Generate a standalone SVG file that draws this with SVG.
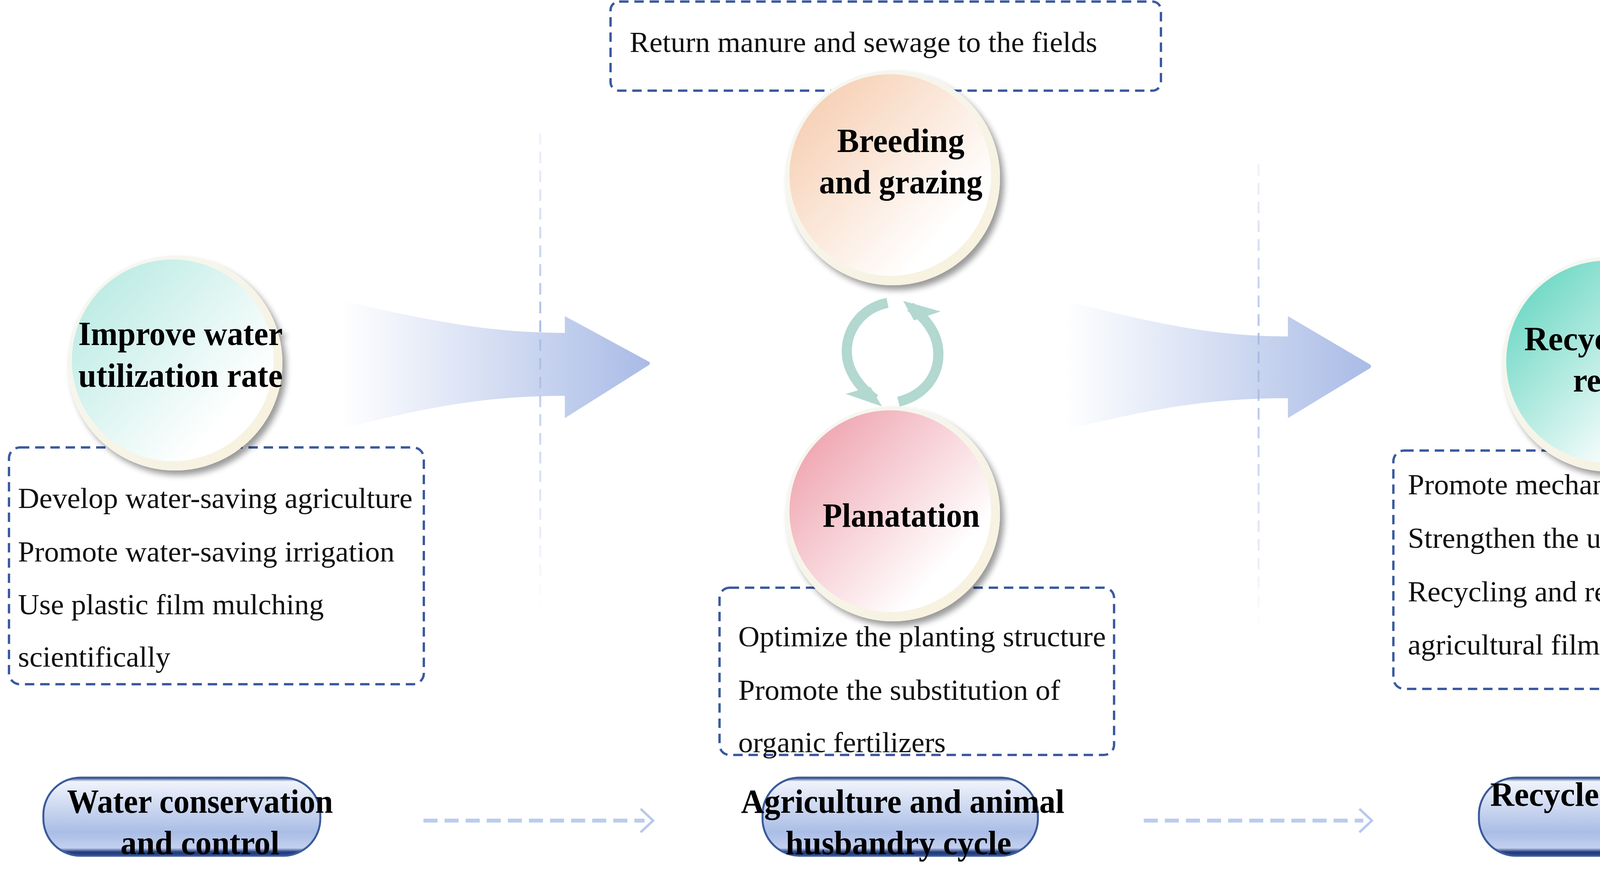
<svg xmlns="http://www.w3.org/2000/svg" width="4724" height="2229" viewBox="0 0 4724 2229">
<style>
.box{fill:none;stroke:#3b5aa0;stroke-width:6;stroke-dasharray:24 15}
.t{font-family:"Liberation Serif",serif;font-size:74px;fill:#111}
.b{font-family:"Liberation Serif",serif;font-size:86px;font-weight:bold;fill:#000;text-anchor:middle}
.pill{stroke:#3a5a9a;stroke-width:5}
.vl{stroke-width:5;stroke-dasharray:30 18;fill:none}
.cyc{fill:none;stroke:#b2d8d0;stroke-width:26}
</style>
<defs>
<filter id="sh" x="-20%" y="-20%" width="150%" height="150%"><feGaussianBlur in="SourceAlpha" stdDeviation="8"/><feOffset dx="10" dy="12"/><feComponentTransfer><feFuncA type="linear" slope="0.4"/></feComponentTransfer><feMerge><feMergeNode/><feMergeNode in="SourceGraphic"/></feMerge></filter>
<linearGradient id="rim" x1="0" y1="0" x2="1" y2="1"><stop offset="0" stop-color="#f5f8f5"/><stop offset="1" stop-color="#f8f1dc"/></linearGradient>
<linearGradient id="gTeal" x1="0.1" y1="0.2" x2="0.75" y2="0.8"><stop offset="0" stop-color="#bfece5"/><stop offset="1" stop-color="#ffffff"/></linearGradient>
<linearGradient id="gPeach" x1="0.1" y1="0.2" x2="0.75" y2="0.8"><stop offset="0" stop-color="#f7d2b8"/><stop offset="1" stop-color="#ffffff"/></linearGradient>
<linearGradient id="gPink" x1="0.1" y1="0.2" x2="0.75" y2="0.8"><stop offset="0" stop-color="#f0aab5"/><stop offset="1" stop-color="#ffffff"/></linearGradient>
<linearGradient id="gGreen" x1="0.1" y1="0.2" x2="0.75" y2="0.8"><stop offset="0" stop-color="#76dac8"/><stop offset="1" stop-color="#ffffff"/></linearGradient>
<linearGradient id="arrG" x1="0" y1="0" x2="1" y2="0"><stop offset="0" stop-color="#a9bbe6" stop-opacity="0"/><stop offset="1" stop-color="#a9bbe6"/></linearGradient>
<linearGradient id="pillG" x1="0" y1="0" x2="0" y2="1"><stop offset="0" stop-color="#243f80"/><stop offset="0.05" stop-color="#f0f3fb"/><stop offset="0.7" stop-color="#aabde6"/><stop offset="0.9" stop-color="#c3d0ef"/><stop offset="0.95" stop-color="#243f80"/><stop offset="1" stop-color="#243f80"/></linearGradient>
<linearGradient id="vfade1" gradientUnits="userSpaceOnUse" x1="0" y1="340" x2="0" y2="1560"><stop offset="0" stop-color="#c9d4ee" stop-opacity="0.3"/><stop offset="0.4" stop-color="#aabde8"/><stop offset="1" stop-color="#aabde8" stop-opacity="0"/></linearGradient>
<linearGradient id="vfade2" gradientUnits="userSpaceOnUse" x1="0" y1="420" x2="0" y2="1620"><stop offset="0" stop-color="#c9d4ee" stop-opacity="0.3"/><stop offset="0.4" stop-color="#aabde8"/><stop offset="1" stop-color="#aabde8" stop-opacity="0"/></linearGradient>
</defs>

<g id="dividers">
<line class="vl" stroke="url(#vfade1)" x1="1383" y1="340" x2="1383" y2="1560"/>
<line class="vl" stroke="url(#vfade2)" x1="3222" y1="420" x2="3222" y2="1620"/>
</g>

<g id="connectors">
<path d="M874,770 C1100,820 1250,852 1446,852 L1446,809 L1660,925 Q1668,929 1660,935 L1446,1070 L1446,1013 C1250,1013 1100,1040 874,1097 Z" fill="url(#arrG)"/>
<path d="M2727,770 C2950,825 3100,861 3297,861 L3297,809 L3506,932 Q3514,937 3506,943 L3297,1070 L3297,1019 C3100,1019 2950,1045 2727,1100 Z" fill="url(#arrG)"/>
<line x1="1084" y1="2100" x2="1650" y2="2100" stroke="#bccbee" stroke-width="10" stroke-dasharray="36 18"/>
<polyline points="1640,2070 1672,2100 1640,2130" fill="none" stroke="#b8c8ec" stroke-width="6"/>
<line x1="2928" y1="2100" x2="3490" y2="2100" stroke="#bccbee" stroke-width="10" stroke-dasharray="36 18"/>
<polyline points="3480,2070 3512,2100 3480,2130" fill="none" stroke="#b8c8ec" stroke-width="6"/>
<path class="cyc" d="M2272,775 C2200,790 2165,850 2168,905 C2170,950 2200,990 2240,1022"/>
<polygon points="2165,1008 2258,1040 2228,990" fill="#b2d8d0"/>
<path class="cyc" d="M2300,1028 C2372,1010 2405,955 2402,900 C2400,855 2372,815 2330,785"/>
<polygon points="2408,797 2312,770 2340,820" fill="#b2d8d0"/>
</g>

<g id="box-water">
<rect class="box" x="23" y="1145" width="1062" height="606" rx="28"/>
<text class="t" x="46" y="1300" textLength="1010" lengthAdjust="spacingAndGlyphs">Develop water-saving agriculture</text>
<text class="t" x="46" y="1437" textLength="964" lengthAdjust="spacingAndGlyphs">Promote water-saving irrigation</text>
<text class="t" x="46" y="1572" textLength="783" lengthAdjust="spacingAndGlyphs">Use plastic film mulching</text>
<text class="t" x="46" y="1706" textLength="390" lengthAdjust="spacingAndGlyphs">scientifically</text>
</g>
<g id="box-manure">
<rect class="box" x="1563" y="4" width="1409" height="228" rx="22"/>
<text class="t" x="1612" y="133" textLength="1197" lengthAdjust="spacingAndGlyphs">Return manure and sewage to the fields</text>
</g>
<g id="box-plant">
<rect class="box" x="1842" y="1504" width="1010" height="428" rx="26"/>
<text class="t" x="1890" y="1654" textLength="941" lengthAdjust="spacingAndGlyphs">Optimize the planting structure</text>
<text class="t" x="1890" y="1791" textLength="824" lengthAdjust="spacingAndGlyphs">Promote the substitution of</text>
<text class="t" x="1890" y="1925" textLength="531" lengthAdjust="spacingAndGlyphs">organic fertilizers</text>
</g>
<g id="box-recycle">
<rect class="box" x="3567" y="1153" width="1135" height="610" rx="28"/>
<text class="t" x="3604" y="1265" textLength="936" lengthAdjust="spacingAndGlyphs">Promote mechanized recycling</text>
<text class="t" x="3604" y="1402" textLength="1027" lengthAdjust="spacingAndGlyphs">Strengthen the utilization of straw</text>
<text class="t" x="3604" y="1539" textLength="944" lengthAdjust="spacingAndGlyphs">Recycling and reusing obsolete</text>
<text class="t" x="3604" y="1675" textLength="521" lengthAdjust="spacingAndGlyphs">agricultural films</text>
</g>

<g id="circle-water" filter="url(#sh)">
<circle cx="448" cy="929" r="275" fill="url(#rim)"/>
<circle cx="442" cy="922" r="258" fill="url(#gTeal)"/>
<text class="b" x="462" y="883" textLength="523" lengthAdjust="spacingAndGlyphs">Improve water</text>
<text class="b" x="462" y="990" textLength="523" lengthAdjust="spacingAndGlyphs">utilization rate</text>
</g>
<g id="circle-breeding" filter="url(#sh)">
<circle cx="2285" cy="455" r="275" fill="url(#rim)"/>
<circle cx="2279" cy="448" r="258" fill="url(#gPeach)"/>
<text class="b" x="2306" y="389" textLength="326" lengthAdjust="spacingAndGlyphs">Breeding</text>
<text class="b" x="2306" y="495" textLength="418" lengthAdjust="spacingAndGlyphs">and grazing</text>
</g>
<g id="circle-plant" filter="url(#sh)">
<circle cx="2285" cy="1315" r="275" fill="url(#rim)"/>
<circle cx="2279" cy="1308" r="258" fill="url(#gPink)"/>
<text class="b" x="2307" y="1348" textLength="402" lengthAdjust="spacingAndGlyphs">Planatation</text>
</g>
<g id="circle-recycle" filter="url(#sh)">
<circle cx="4120" cy="932" r="275" fill="url(#rim)"/>
<circle cx="4114" cy="925" r="258" fill="url(#gGreen)"/>
<text class="b" x="4121" y="896" textLength="438" lengthAdjust="spacingAndGlyphs">Recycle and</text>
<text class="b" x="4120" y="1002" textLength="186" lengthAdjust="spacingAndGlyphs">reuse</text>
</g>

<g id="pill-water">
<rect class="pill" x="111" y="1990" width="709" height="200" rx="95" fill="url(#pillG)"/>
<text class="b" x="512" y="2080" textLength="681" lengthAdjust="spacingAndGlyphs">Water conservation</text>
<text class="b" x="512" y="2186" textLength="407" lengthAdjust="spacingAndGlyphs">and control</text>
</g>
<g id="pill-agri">
<rect class="pill" x="1952" y="1990" width="705" height="200" rx="95" fill="url(#pillG)"/>
<text class="b" x="2311" y="2080" textLength="828" lengthAdjust="spacingAndGlyphs">Agriculture and animal</text>
<text class="b" x="2300" y="2186" textLength="578" lengthAdjust="spacingAndGlyphs">husbandry cycle</text>
</g>
<g id="pill-recycle">
<rect class="pill" x="3786" y="1990" width="711" height="200" rx="95" fill="url(#pillG)"/>
<text class="b" x="4140" y="2062" textLength="650" lengthAdjust="spacingAndGlyphs">Recycle and reuse</text>
</g>
</svg>
